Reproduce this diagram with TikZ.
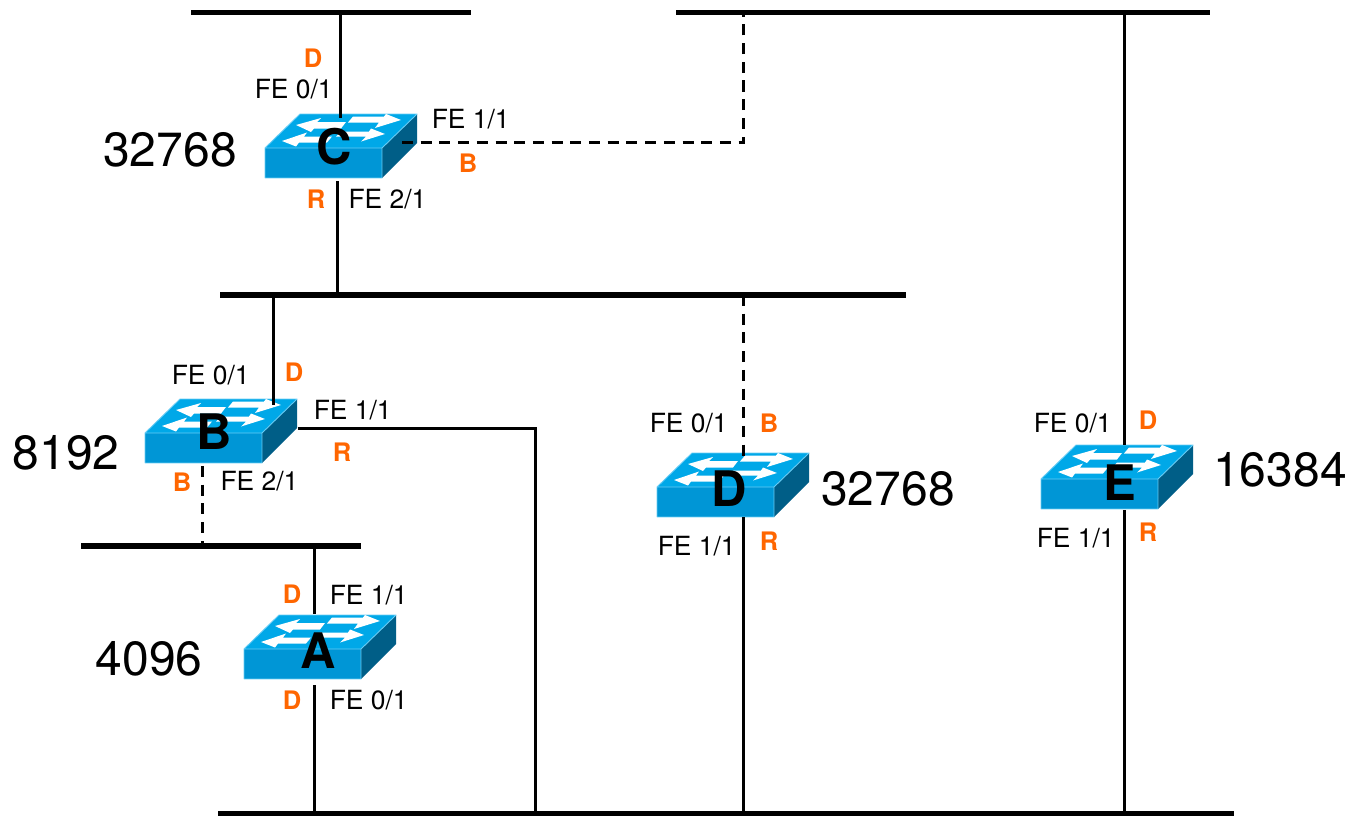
\documentclass[tikz,border=0pt]{standalone}
\usepackage{fontspec}
\setmainfont{TeX Gyre Heros}
\definecolor{swtop}{HTML}{00A8E8}
\definecolor{swfront}{HTML}{0096D6}
\definecolor{swside}{HTML}{005E87}
\definecolor{swedge}{HTML}{66CCF5}
\definecolor{portrole}{HTML}{FF6600}
\tikzset{
  bus/.style={draw=none,fill=black,rectangle,inner sep=0pt,minimum height=5.5pt},
  wire/.style={draw=black,line width=3pt},
  dashwire/.style={draw=black,line width=3pt,dash pattern=on 11pt off 7.7pt},
  lbl/.style={font=\fontsize{26.4}{26}\selectfont,inner sep=0pt,text=black},
  role/.style={font=\fontsize{25.5}{26}\selectfont\bfseries,inner sep=0pt,text=portrole},
  prio/.style={font=\fontsize{48}{48}\selectfont,inner sep=0pt,text=black},
  swname/.style={font=\fontsize{49}{49}\selectfont\bfseries,inner sep=0pt,text=black},
  swbox/.style={rectangle,draw=none,inner sep=0pt,minimum width=152pt,minimum height=64pt,anchor=south west},
  switchicon/.pic={
    \fill[swfront] (0,0) rectangle (117,30);
    \fill[swtop] (0,0) -- (35,-34) -- (152,-34) -- (117,0) -- cycle;
    \fill[swside] (117,0) -- (152,-34) -- (152,-5) -- (117,30) -- cycle;
    \draw[swedge,line width=0.9pt,line join=round] (0,30) -- (0,0) -- (35,-34) -- (152,-34) -- (117,0) -- (0,0) (117,0) -- (117,30) -- (0,30);
    \fill[white] (31,-23) -- (56,-30) -- (52,-26) -- (81,-26) -- (76,-19.5) -- (49,-19.5) -- (46,-16) -- cycle;
    \fill[white] (136,-28) -- (121,-34) -- (119,-31.5) -- (88,-31.5) -- (83,-25.5) -- (114,-25.5) -- (110,-20) -- cycle;
    \fill[white] (17,-7) -- (42,-15.5) -- (39,-11.5) -- (67,-11.5) -- (62,-5.5) -- (34,-5.5) -- (31,-1.5) -- cycle;
    \fill[white] (120,-14) -- (106,-19.5) -- (104,-16.5) -- (76,-16.5) -- (71,-11.5) -- (101,-11.5) -- (96,-6.5) -- cycle;
  }
}
\begin{document}
\begin{tikzpicture}[x=1pt,y=-1pt]
\useasboundingbox (0,0) rectangle (1352,816);
\fill[white] (0,0) rectangle (1352,816);

% buses
\node[bus,minimum width=280pt] (busTL) at (331,12.3) {};
\node[bus,minimum width=534pt] (busTR) at (943,12.3) {};
\node[bus,minimum width=686pt] (busM) at (563,295) {};
\node[bus,minimum width=280pt] (busA) at (221,546) {};
\node[bus,minimum width=1016pt] (busB) at (726,814) {};

% switches
\node[swbox] (swC) at (265,178) {}; \pic at (265,148) {switchicon};
\node[swbox] (swB) at (145,463) {}; \pic at (145,433) {switchicon};
\node[swbox] (swA) at (244,679) {}; \pic at (244,649) {switchicon};
\node[swbox] (swD) at (657,517) {}; \pic at (657,487) {switchicon};
\node[swbox] (swE) at (1041,509) {}; \pic at (1041,479) {switchicon};

% connector end points
\coordinate (cTop) at (340,12);   \coordinate (cTopP) at (340,118);
\coordinate (cBot) at (337.7,295);  \coordinate (cBotP) at (337.7,181);
\coordinate (cRight) at (402,142.7);\coordinate (cCorner) at (743.5,142.7); \coordinate (cEnd) at (743.5,12);
\coordinate (bTop) at (273,295);  \coordinate (bTopP) at (273,405);
\coordinate (bRight) at (298,428);\coordinate (bCorner) at (535,428); \coordinate (bEnd) at (535,814);
\coordinate (bBot) at (202,546);  \coordinate (bBotP) at (202,466);
\coordinate (aTop) at (314,546);  \coordinate (aTopP) at (314,614);
\coordinate (aBot) at (314,814);  \coordinate (aBotP) at (314,685);
\coordinate (dTop) at (743.5,295);  \coordinate (dTopP) at (743.5,456);
\coordinate (dBot) at (743.5,814);  \coordinate (dBotP) at (743.5,517);
\coordinate (eTop) at (1124,12);  \coordinate (eTopP) at (1124,445);
\coordinate (eBot) at (1124,814); \coordinate (eBotP) at (1124,510);

% connectors
\draw[wire] (cTop) -- (cTopP);
\draw[wire] (cBotP) -- (cBot);
\draw[dashwire] (cRight) -- (cCorner) -- (cEnd);
\draw[wire] (bTop) -- (bTopP);
\draw[wire] (bRight) -- (bCorner) -- (bEnd);
\draw[dashwire] (bBotP) -- (bBot);
\draw[wire] (aTop) -- (aTopP);
\draw[wire] (aBotP) -- (aBot);
\draw[dashwire] (dTop) -- (dTopP);
\draw[wire] (dBotP) -- (dBot);
\draw[wire] (eTop) -- (eTopP);
\draw[wire] (eBotP) -- (eBot);

% switch names
\node[swname] (nC) at (334,147) {C};
\node[swname] (nB) at (214,432) {B};
\node[swname] (nA) at (318,651) {A};
\node[swname] (nD) at (729,489) {D};
\node[swname] (nE) at (1120,483) {E};

% priorities
\node[prio] (pC) at (170,150) {32768};
\node[prio] (pB) at (66,453) {8192};
\node[prio] (pA) at (149,659) {4096};
\node[prio] (pD) at (888,489) {32768};
\node[prio] (pE) at (1280,470) {16384};

% port labels
\node[lbl] (l1) at (293.7,89) {FE 0/1};
\node[lbl] (l2) at (470.7,119) {FE 1/1};
\node[lbl] (l3) at (387.5,199) {FE 2/1};
\node[lbl] (l4) at (210.7,375) {FE 0/1};
\node[lbl] (l5) at (352.7,410) {FE 1/1};
\node[lbl] (l6) at (259.5,481) {FE 2/1};
\node[lbl] (l7) at (368.7,595) {FE 1/1};
\node[lbl] (l8) at (368.7,700) {FE 0/1};
\node[lbl] (l9) at (688.7,423) {FE 0/1};
\node[lbl] (l10) at (696.7,546) {FE 1/1};
\node[lbl] (l11) at (1072.7,423) {FE 0/1};
\node[lbl] (l12) at (1075.7,538) {FE 1/1};

% port roles
\node[role] (r1) at (313,58) {D};
\node[role] (r2) at (468,163) {B};
\node[role] (r3) at (316,199) {R};
\node[role] (r4) at (294,372) {D};
\node[role] (r5) at (342,452) {R};
\node[role] (r6) at (182,482) {B};
\node[role] (r7) at (292,594) {D};
\node[role] (r8) at (292,700) {D};
\node[role] (r9) at (769,423) {B};
\node[role] (r10) at (769,541) {R};
\node[role] (r11) at (1148,420) {D};
\node[role] (r12) at (1148,532) {R};
\end{tikzpicture}
\end{document}
